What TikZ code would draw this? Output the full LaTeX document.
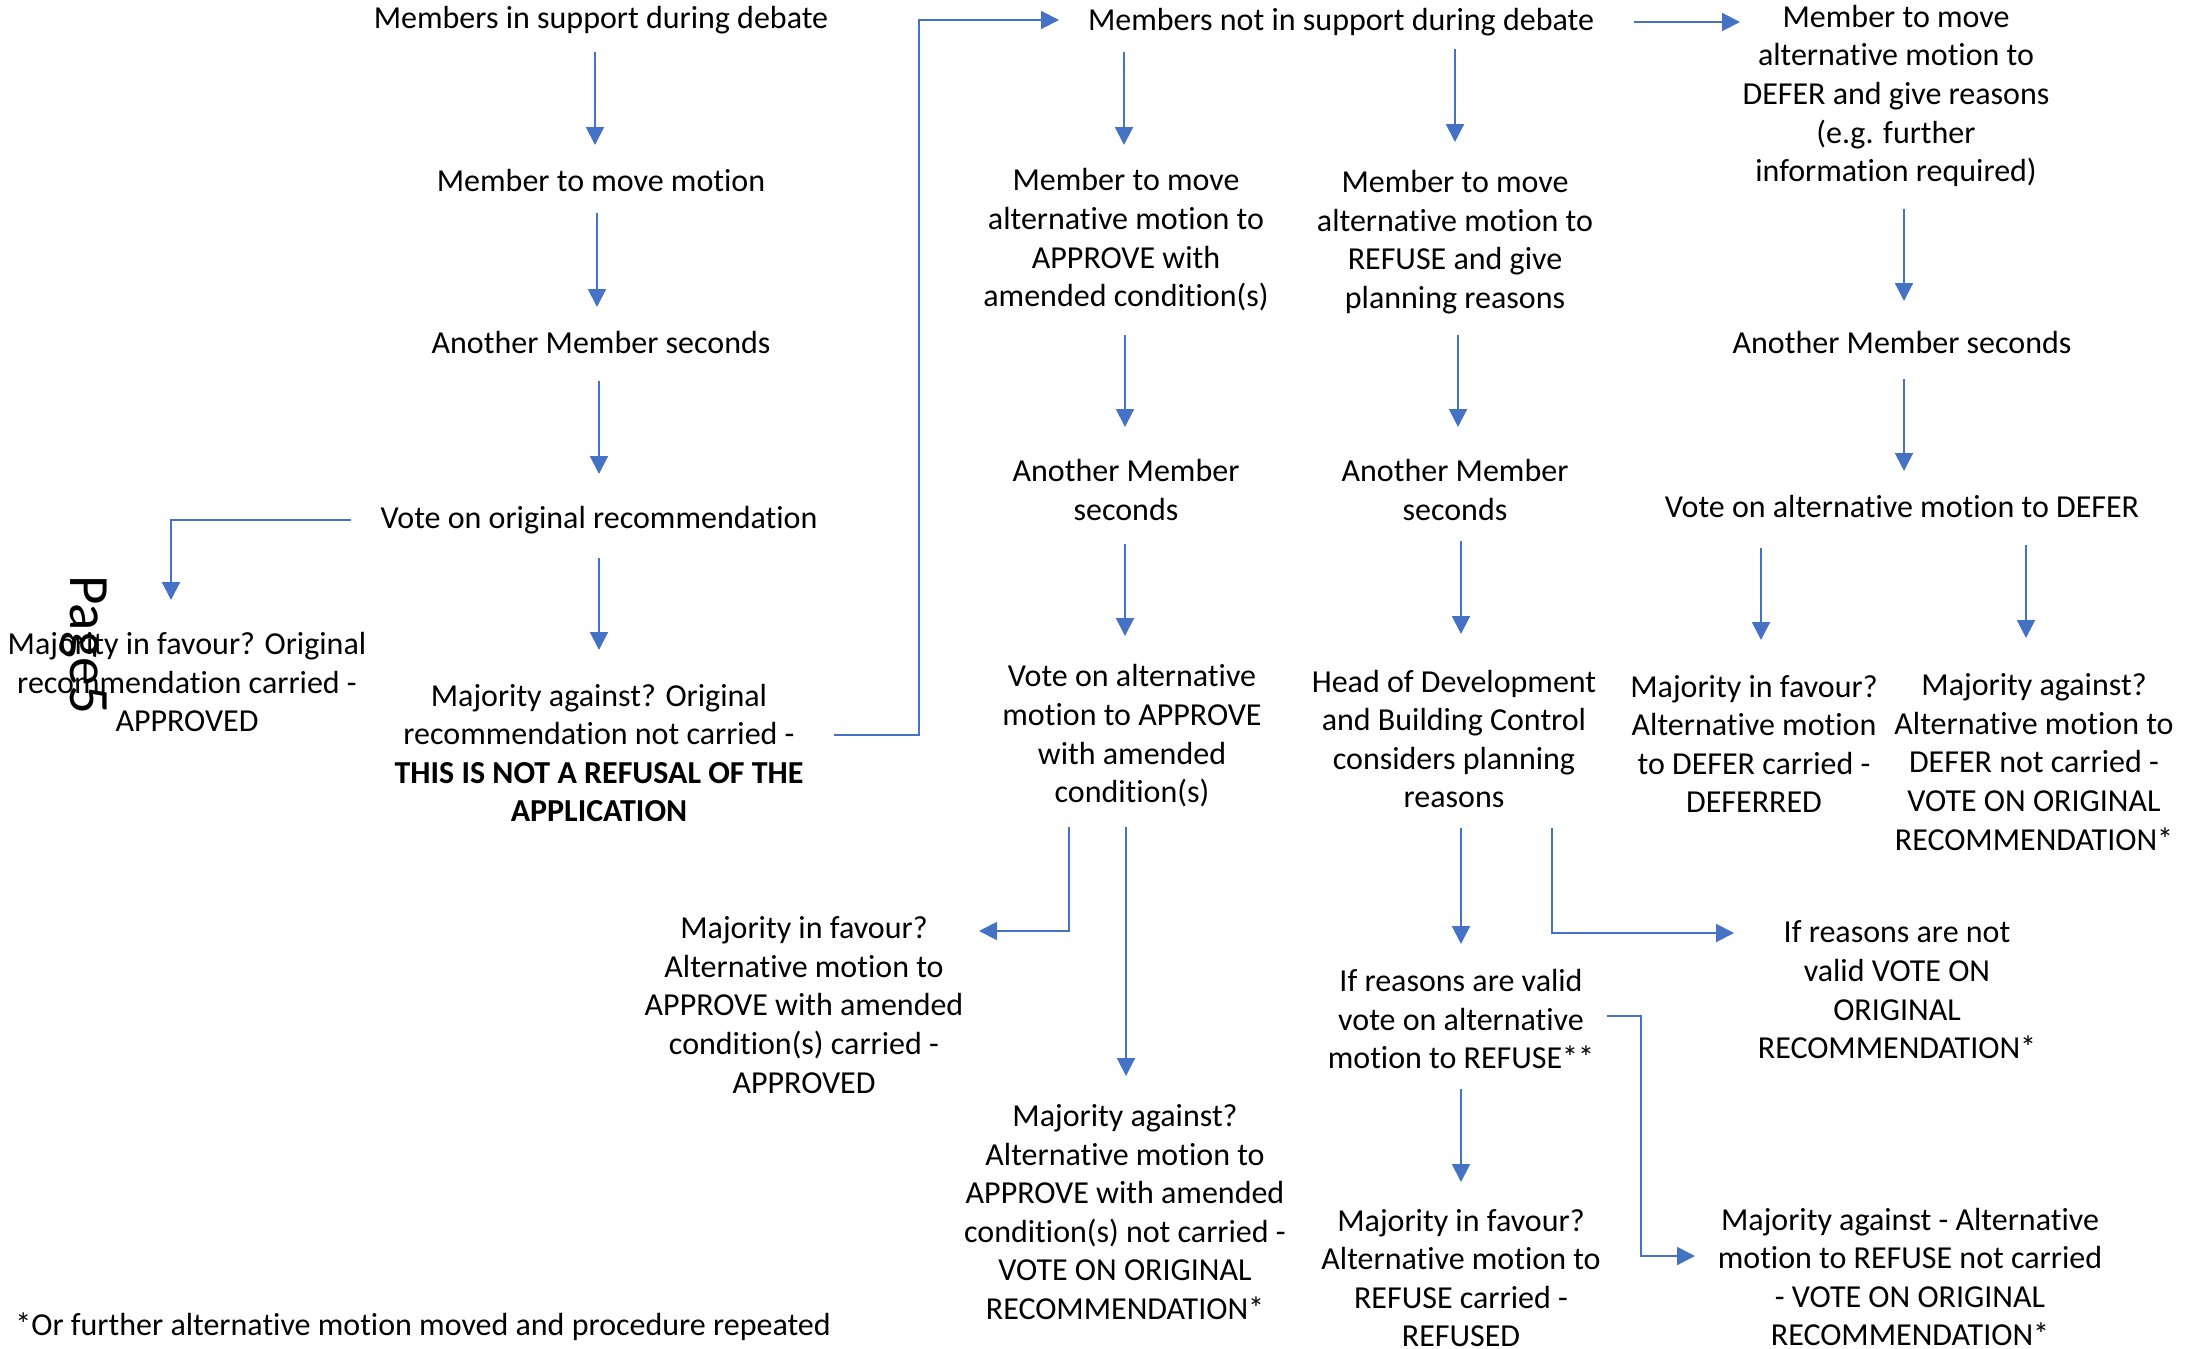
\documentclass[tikz,border=0pt]{standalone}
\usepackage{fontspec}
\setmainfont{Carlito}[Ligatures=NoCommon]
\usetikzlibrary{arrows.meta,calc}
\definecolor{lineblue}{HTML}{4472C4}
\begin{document}
\begin{tikzpicture}[x=0.5pt,y=-0.5pt,
  txt/.style={align=center,inner sep=0pt,font=\fontsize{16}{19.3}\selectfont},
  arr/.style={draw=lineblue,line width=1pt,-{Triangle[length=9pt,width=9pt]}}]
\useasboundingbox[fill=white] (0,0) rectangle (2186,1349);
% column 1
\node[txt] (n1) at (601,20) {Members in support during debate};
\node[txt] (n2) at (601,181) {Member to move motion};
\node[txt] (n3) at (601,343) {Another Member seconds};
\node[txt] (n4) at (599,520) {Vote on original recommendation};
\node[txt] (n5) at (599,753) {Majority against? Original\\recommendation not carried -\\\textbf{THIS IS NOT A REFUSAL OF THE}\\\textbf{APPLICATION}};
\node[txt] (n6) at (187,682) {Majority in favour? Original\\recommendation carried -\\APPROVED};
\node[txt,font=\fontsize{28.5}{32}\selectfont,rotate=-90] (pg) at (84,645) {Page5};
% not in support
\node[txt] (m1) at (1341,22) {Members not in support during debate};
% defer column
\node[txt] (d1) at (1896,96) {Member to move\\alternative motion to\\DEFER and give reasons\\(e.g. further\\information required)};
\node[txt] (d2) at (1902,343) {Another Member seconds};
\node[txt] (d3) at (1902,507) {Vote on alternative motion to DEFER};
\node[txt] (d4) at (1754,744) {Majority in favour?\\Alternative motion\\to DEFER carried -\\DEFERRED};
\node[txt] (d5) at (2034,762) {Majority against?\\Alternative motion to\\DEFER not carried -\\VOTE ON ORIGINAL\\RECOMMENDATION*};
% approve column
\node[txt] (a1) at (1126,240) {Member to move\\alternative motion to\\APPROVE with\\amended condition(s)};
\node[txt] (a2) at (1126,490) {Another Member\\seconds};
\node[txt] (a3) at (1132,736) {Vote on alternative\\motion to APPROVE\\with amended\\condition(s)};
\node[txt] (a4) at (804,1005) {Majority in favour?\\Alternative motion to\\APPROVE with amended\\condition(s) carried -\\APPROVED};
\node[txt] (a5) at (1125,1212) {Majority against?\\Alternative motion to\\APPROVE with amended\\condition(s) not carried -\\VOTE ON ORIGINAL\\RECOMMENDATION*};
% refuse column
\node[txt] (r1) at (1455,242) {Member to move\\alternative motion to\\REFUSE and give\\planning reasons};
\node[txt] (r2) at (1455,490) {Another Member\\seconds};
\node[txt] (r3) at (1454,739) {Head of Development\\and Building Control\\considers planning\\reasons};
\node[txt] (r4) at (1897,990) {If reasons are not\\valid VOTE ON\\ORIGINAL\\RECOMMENDATION*};
\node[txt] (r5) at (1461,1019) {If reasons are valid\\vote on alternative\\motion to REFUSE**};
\node[txt] (r6) at (1461,1278) {Majority in favour?\\Alternative motion to\\REFUSE carried -\\REFUSED};
\node[txt] (r7) at (1910,1277) {Majority against - Alternative\\motion to REFUSE not carried\\- VOTE ON ORIGINAL\\RECOMMENDATION*};
\node[txt,anchor=west] (ft) at (15,1327) {*Or further alternative motion moved and procedure repeated};
% connectors
\draw[arr] ($(n1)+(-6,32)$) -- ($(n2)+(-6,-36)$);
\draw[arr] ($(n2)+(-4,32)$) -- ($(n3)+(-4,-36)$);
\draw[arr] ($(n3)+(-2,38)$) -- ($(n4)+(0,-46)$);
\draw[arr] ($(n4)+(0,38)$) -- ($(n5)+(0,-103)$);
\draw[arr] ($(n4)+(-248,0)$) -| ($(n6)+(-16,-82)$);
\draw[arr] ($(n5)+(235,-18)$) -- ++(85,0) |- ($(m1)+(-282,-2)$);
\draw[arr] ($(m1)+(293,0)$) -- ($(d1)+(-156,-74)$);
\draw[arr] ($(m1)+(-217,30)$) -- ($(a1)+(-2,-95)$);
\draw[arr] ($(m1)+(114,27)$) -- ($(r1)+(0,-100)$);
\draw[arr] ($(a1)+(-1,95)$) -- ($(a2)+(-1,-63)$);
\draw[arr] ($(a2)+(-1,54)$) -- ($(a3)+(-7,-100)$);
\draw[arr] ($(a3)+(-63,91)$) |- ($(a4)+(175,-74)$);
\draw[arr] ($(a3)+(-6,91)$) -- ($(a5)+(1,-136)$);
\draw[arr] ($(r1)+(3,93)$) -- ($(r2)+(3,-63)$);
\draw[arr] ($(r2)+(6,51)$) -- ($(r3)+(7,-105)$);
\draw[arr] ($(r3)+(7,89)$) -- ($(r5)+(0,-75)$);
\draw[arr] ($(r3)+(98,89)$) |- ($(r4)+(-163,-57)$);
\draw[arr] ($(r5)+(146,-3)$) -- ++(34,0) |- ($(r7)+(-215,-21)$);
\draw[arr] ($(r5)+(0,70)$) -- ($(r6)+(0,-96)$);
\draw[arr] ($(d1)+(8,113)$) -- ($(d2)+(2,-42)$);
\draw[arr] ($(d2)+(2,36)$) -- ($(d3)+(2,-36)$);
\draw[arr] ($(d3)+(-141,41)$) -- ($(d4)+(7,-104)$);
\draw[arr] ($(d3)+(124,38)$) -- ($(d5)+(-8,-124)$);
\end{tikzpicture}
\end{document}
